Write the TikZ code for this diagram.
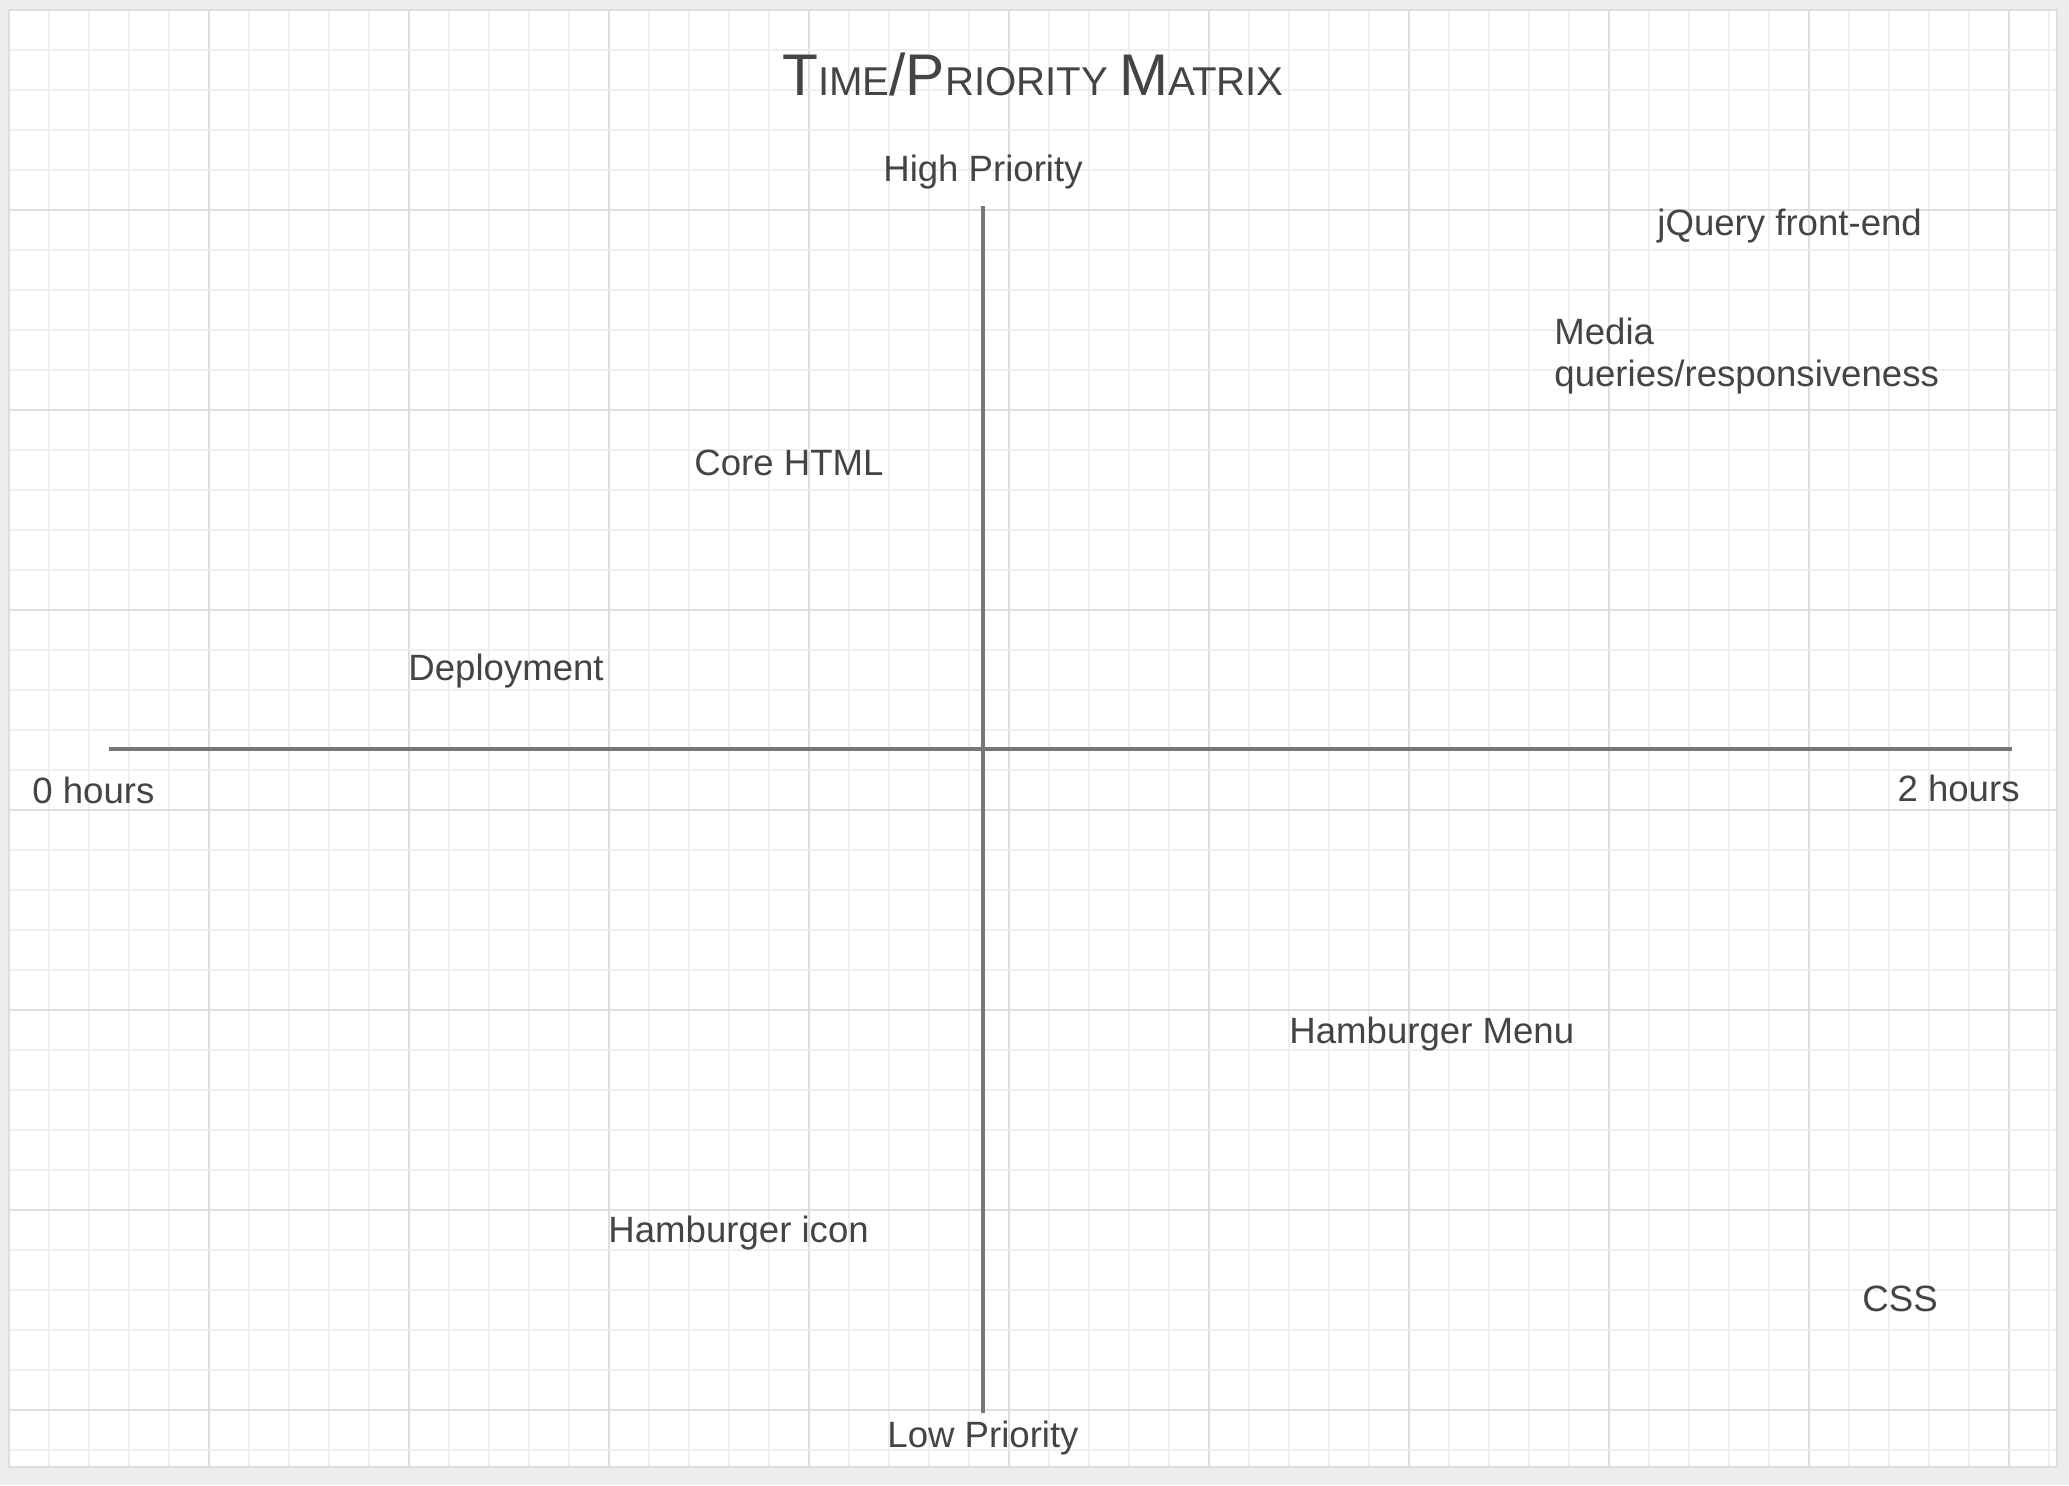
\documentclass[tikz,border=0pt]{standalone}
\usepackage{fontspec}
\setmainfont{Liberation Sans}
\usepackage{xcolor}
\definecolor{txtgray}{HTML}{444444}
\definecolor{axisgray}{HTML}{777777}
\definecolor{minorgrid}{HTML}{EFEFEF}
\definecolor{majorgrid}{HTML}{DEDEDE}
\definecolor{pagegray}{HTML}{EDEDED}
\newcommand{\titlebig}[1]{{\fontsize{29.4}{31}\selectfont #1}}

\begin{document}
\begin{tikzpicture}[x=0.5pt, y=-0.5pt, every node/.style={font=\fontsize{18.3}{21}\selectfont, text=txtgray, inner sep=0pt}]
  \useasboundingbox (0,0) rectangle (2069,1485);
  % paper and grid
  \fill[pagegray] (0,0) rectangle (2069,1485);
  \filldraw[fill=white, draw=majorgrid, line width=1pt] (9,10) rectangle (2057,1467);
  \foreach \i in {1,...,51} {
    \pgfmathtruncatemacro{\gx}{9+40*\i}
    \pgfmathtruncatemacro{\gm}{mod(\i,5)}
    \ifnum\gm=0
      \draw[majorgrid, line width=0.75pt] (\gx,11) -- (\gx,1466);
    \else
      \draw[minorgrid, line width=0.75pt] (\gx,11) -- (\gx,1466);
    \fi
  }
  \foreach \j in {1,...,36} {
    \pgfmathtruncatemacro{\gy}{10+40*\j}
    \pgfmathtruncatemacro{\gm}{mod(\j,5)}
    \ifnum\gm=0
      \draw[majorgrid, line width=0.75pt] (10,\gy) -- (2056,\gy);
    \else
      \draw[minorgrid, line width=0.75pt] (10,\gy) -- (2056,\gy);
    \fi
  }
  % axes
  \coordinate (timeLeft) at (109,749);
  \coordinate (timeRight) at (2012,749);
  \coordinate (prioTop) at (983,206);
  \coordinate (prioBottom) at (983,1413);
  \draw[axisgray, line width=1.8pt] (timeLeft) -- (timeRight);
  \draw[axisgray, line width=1.8pt] (prioTop) -- (prioBottom);
  % labels
  \node[anchor=base, font=\fontsize{20.1}{24}\selectfont] (title) at (1033,95) {\titlebig{T}IME\titlebig{/}\titlebig{P}RIORITY \titlebig{M}ATRIX};
  \node[anchor=base] (highPrio) at (983,181) {High Priority};
  \node[anchor=base] (lowPrio) at (983,1447) {Low Priority};
  \node[anchor=base west] (zeroHours) at (32,803) {0 hours};
  \node[anchor=base east] (twoHours) at (2020,801) {2 hours};
  % tasks
  \node[anchor=base west] (jquery) at (1657,235) {jQuery front-end};
  \node[anchor=base west, align=left] (media) at (1554,386) {Media\\queries/responsiveness};
  \node[anchor=base west] (coreHtml) at (694,475) {Core HTML};
  \node[anchor=base west] (deploy) at (408,680) {Deployment};
  \node[anchor=base west] (hamMenu) at (1289,1043) {Hamburger Menu};
  \node[anchor=base west] (hamIcon) at (608,1242) {Hamburger icon};
  \node[anchor=base west] (css) at (1862,1311) {CSS};
\end{tikzpicture}
\end{document}
